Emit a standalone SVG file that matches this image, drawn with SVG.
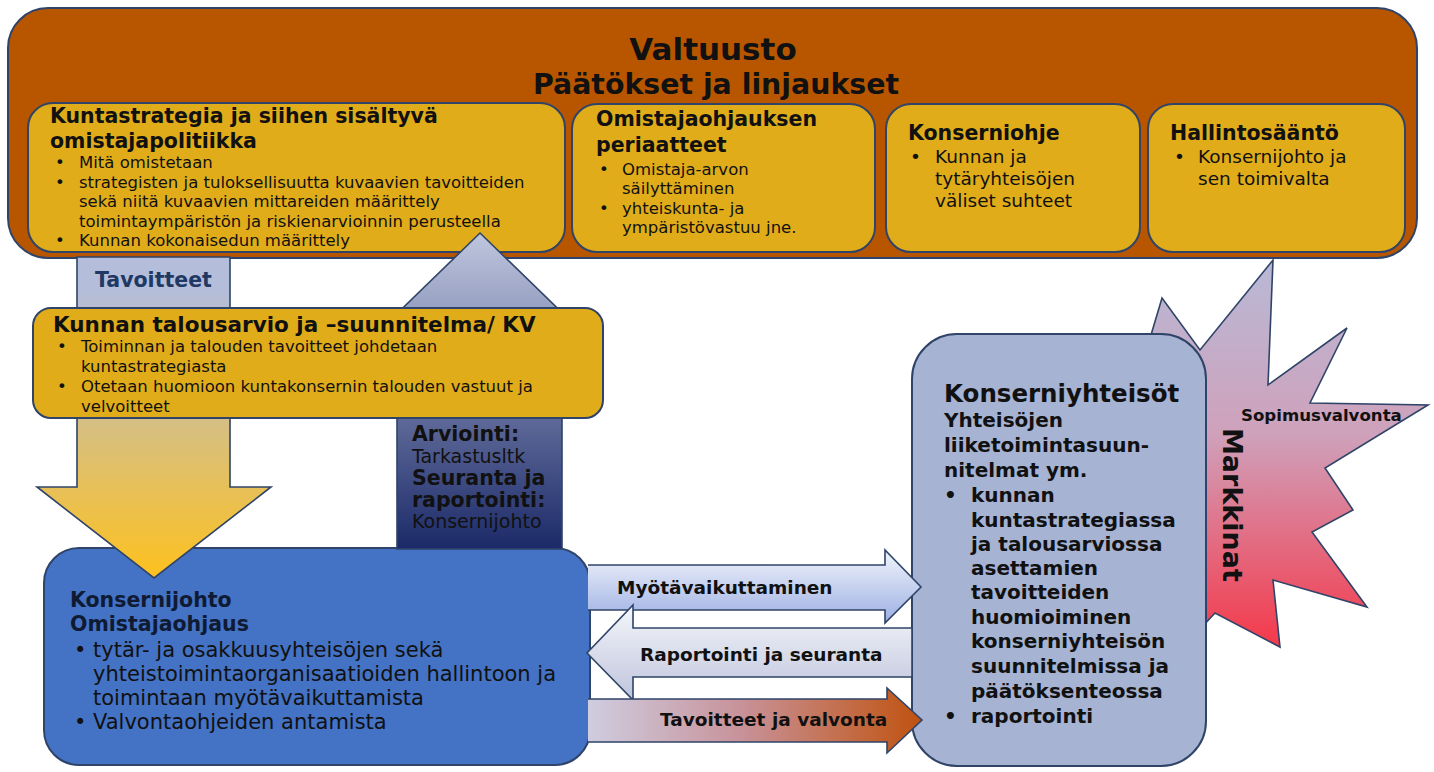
<svg xmlns="http://www.w3.org/2000/svg" width="1434" height="772" viewBox="0 0 1434 772">
<style>
text { font-family: 'DejaVu Sans', Verdana, sans-serif; fill: #111; }
.b { font-weight: bold; }
.h1 { font-size: 31px; font-weight: bold; }
.h2 { font-size: 28.4px; font-weight: bold; }
.ttl { font-size: 20.5px; font-weight: bold; }
.s165 { font-size: 16.5px; }
.s185 { font-size: 18.5px; }
.box { stroke: #2F4468; stroke-width: 2; }
.arr { stroke: #2F4468; stroke-width: 1.6; stroke-linejoin: miter; }
.yel { fill: #E0AC1A; }
</style>
<defs>
<linearGradient id="gDown" gradientUnits="userSpaceOnUse" x1="0" y1="290" x2="0" y2="578">
<stop offset="0" stop-color="#B4BDDA"/><stop offset="1" stop-color="#FDC11E"/>
</linearGradient>
<linearGradient id="gUp" gradientUnits="userSpaceOnUse" x1="0" y1="233" x2="0" y2="549">
<stop offset="0" stop-color="#BFC6DE"/><stop offset="1" stop-color="#1B2968"/>
</linearGradient>
<linearGradient id="gStar" gradientUnits="userSpaceOnUse" x1="0" y1="260" x2="0" y2="647">
<stop offset="0" stop-color="#B8B9D6"/><stop offset="0.45" stop-color="#CFA1BB"/><stop offset="1" stop-color="#F5384A"/>
</linearGradient>
<linearGradient id="gMyo" gradientUnits="userSpaceOnUse" x1="0" y1="552" x2="0" y2="622">
<stop offset="0" stop-color="#F0F3FB"/><stop offset="1" stop-color="#9DB0E3"/>
</linearGradient>
<linearGradient id="gRap" gradientUnits="userSpaceOnUse" x1="0" y1="606" x2="0" y2="700">
<stop offset="0" stop-color="#F5F6FA"/><stop offset="1" stop-color="#BEC4DC"/>
</linearGradient>
<linearGradient id="gTav" gradientUnits="userSpaceOnUse" x1="588" y1="0" x2="922" y2="0">
<stop offset="0" stop-color="#CFCDE0"/><stop offset="0.45" stop-color="#C8939B"/><stop offset="1" stop-color="#C0520F"/>
</linearGradient>
</defs>

<g id="valtuusto">
<rect class="box" x="8" y="8" width="1409" height="250" rx="40" fill="#B85600"/>
<text class="h1" x="713" y="60" text-anchor="middle">Valtuusto</text>
<text class="h2" x="716" y="94" text-anchor="middle">Päätökset ja linjaukset</text>
</g>

<g id="kuntastrategia">
<rect class="box yel" x="28" y="103" width="537" height="149" rx="25"/>
<text class="ttl" x="50" y="123">Kuntastrategia ja siihen sisältyvä</text>
<text class="ttl" x="50" y="148">omistajapolitiikka</text>
<text x="55" y="168" class="s165">•</text><text x="79" y="168" class="s165">Mitä omistetaan</text>
<text x="55" y="188" class="s165">•</text><text x="79" y="188" class="s165">strategisten ja tuloksellisuutta kuvaavien tavoitteiden</text>
<text x="79" y="207" class="s165">sekä niitä kuvaavien mittareiden määrittely</text>
<text x="79" y="227" class="s165">toimintaympäristön ja riskienarvioinnin perusteella</text>
<text x="55" y="246" class="s165">•</text><text x="79" y="246" class="s165">Kunnan kokonaisedun määrittely</text>
</g>

<g id="omistajaohjauksen-periaatteet">
<rect class="box yel" x="572" y="104" width="303" height="148" rx="25"/>
<text class="ttl" x="596" y="126">Omistajaohjauksen</text>
<text class="ttl" x="596" y="152">periaatteet</text>
<text x="599" y="175" class="s165">•</text><text x="622" y="175" class="s165">Omistaja-arvon</text>
<text x="622" y="194" class="s165">säilyttäminen</text>
<text x="599" y="214" class="s165">•</text><text x="622" y="214" class="s165">yhteiskunta- ja</text>
<text x="622" y="233" class="s165">ympäristövastuu jne.</text>
</g>

<g id="konserniohje">
<rect class="box yel" x="886" y="104" width="254" height="148" rx="25"/>
<text class="ttl" x="908" y="140">Konserniohje</text>
<text x="910" y="163" class="s185">•</text><text x="935" y="163" class="s185">Kunnan ja</text>
<text x="935" y="185" class="s185">tytäryhteisöjen</text>
<text x="935" y="207" class="s185">väliset suhteet</text>
</g>

<g id="hallintosaanto">
<rect class="box yel" x="1148" y="104" width="257" height="148" rx="25"/>
<text class="ttl" x="1170" y="140">Hallintosääntö</text>
<text x="1174" y="163" class="s185">•</text><text x="1198" y="163" class="s185">Konsernijohto ja</text>
<text x="1198" y="185" class="s185">sen toimivalta</text>
</g>

<g id="markkinat">
<polygon class="arr" fill="url(#gStar)" points="1148,345 1162,298 1200,350 1273,260 1268,385 1347,328 1310,403 1428,405 1325,468 1353,510 1312,532 1367,607 1273,580 1280,647 1215,613 1190,640 1150,500"/>
<text class="b" x="1241" y="421" font-size="16.6">Sopimusvalvonta</text>
<text class="b" font-size="27" transform="translate(1223,428) rotate(90)">Markkinat</text>
</g>

<g id="konserniyhteisot">
<rect class="box" x="912" y="334" width="294" height="432" rx="45" fill="#A6B3D3"/>
<text class="b" x="944" y="402" font-size="24.5">Konserniyhteisöt</text>
<g font-size="20">
<text x="944" y="427" class="b">Yhteisöjen</text>
<text x="944" y="452" class="b">liiketoimintasuun-</text>
<text x="944" y="477" class="b">nitelmat ym.</text>
<text x="944" y="502" class="b">•</text><text x="971" y="502" class="b">kunnan</text>
<text x="971" y="527" class="b">kuntastrategiassa</text>
<text x="971" y="551" class="b">ja talousarviossa</text>
<text x="971" y="575" class="b">asettamien</text>
<text x="971" y="599" class="b">tavoitteiden</text>
<text x="971" y="624" class="b">huomioiminen</text>
<text x="971" y="648" class="b">konserniyhteisön</text>
<text x="971" y="673" class="b">suunnitelmissa ja</text>
<text x="971" y="698" class="b">päätöksenteossa</text>
<text x="944" y="723" class="b">•</text><text x="971" y="723" class="b">raportointi</text>
</g>
</g>

<g id="konsernijohto">
<rect class="box" x="44" y="548" width="546" height="217" rx="35" fill="#4472C4"/>
<text class="ttl" x="70" y="607" style="fill:#0F1A33">Konsernijohto</text>
<text class="ttl" x="70" y="631" style="fill:#0F1A33">Omistajaohjaus</text>
<g font-size="21">
<text x="74" y="657">•</text><text x="93" y="657">tytär- ja osakkuusyhteisöjen sekä</text>
<text x="93" y="681">yhteistoimintaorganisaatioiden hallintoon ja</text>
<text x="93" y="705">toimintaan myötävaikuttamista</text>
<text x="74" y="729">•</text><text x="93" y="729">Valvontaohjeiden antamista</text>
</g>
</g>

<g id="connectors">
<path class="arr" fill="url(#gDown)" d="M77,257 H230 V487 H271 L154,578 L37,487 H77 Z"/>
<text class="ttl" x="95" y="287" style="fill:#1F3864">Tavoitteet</text>

<path class="arr" fill="url(#gUp)" d="M397,549 V335 H375 L480,233 L585,335 H562 V549 Z"/>
<text class="ttl" x="412" y="441">Arviointi:</text>
<text x="412" y="463" font-size="19">Tarkastusltk</text>
<text class="ttl" x="412" y="485">Seuranta ja</text>
<text class="ttl" x="412" y="507">raportointi:</text>
<text x="412" y="528" font-size="19">Konsernijohto</text>

<path fill="url(#gMyo)" d="M588,565 H885 V550 L921,587 L885,623 V610 H588 Z"/>
<path class="arr" fill="none" d="M588,565 H885 V550 L921,587 L885,623 V610 H588"/>
<text class="b" x="617" y="594" font-size="18.5">Myötävaikuttaminen</text>

<path class="arr" fill="url(#gRap)" d="M912,628 H633 V605 L587,653 L633,700 V677 H912 Z"/>
<text class="b" x="640" y="661" font-size="18.5">Raportointi ja seuranta</text>

<path fill="url(#gTav)" d="M588,699 H887 V688 L922,720 L887,753 V742 H588 Z"/>
<path class="arr" fill="none" d="M588,699 H887 V688 L922,720 L887,753 V742 H588"/>
<text class="b" x="660" y="726" font-size="18.5">Tavoitteet ja valvonta</text>
</g>

<g id="talousarvio">
<rect class="box yel" x="33" y="308" width="570" height="110" rx="18"/>
<text class="b" x="53" y="332" font-size="21.5">Kunnan talousarvio ja –suunnitelma/ KV</text>
<text x="57" y="352" class="s165">•</text><text x="81" y="352" class="s165">Toiminnan ja talouden tavoitteet johdetaan</text>
<text x="81" y="372" class="s165">kuntastrategiasta</text>
<text x="57" y="392" class="s165">•</text><text x="81" y="392" class="s165">Otetaan huomioon kuntakonsernin talouden vastuut ja</text>
<text x="81" y="412" class="s165">velvoitteet</text>
</g>
</svg>
